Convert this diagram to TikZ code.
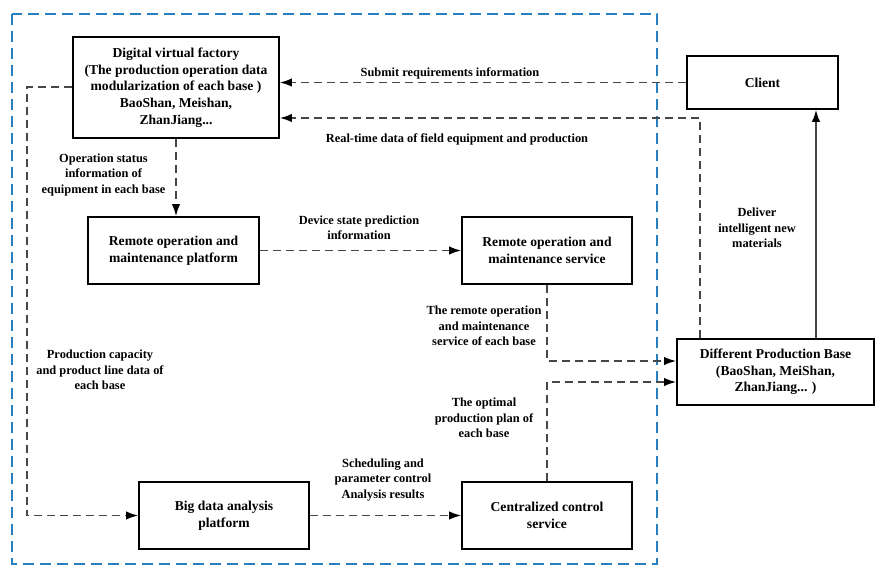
\documentclass[tikz,border=0pt]{standalone}
\usepackage{fontspec}
\setmainfont{Liberation Serif}
\usetikzlibrary{arrows.meta}
\definecolor{framecol}{RGB}{38,128,192}
\definecolor{linecol}{RGB}{70,70,70}
\begin{document}
\begin{tikzpicture}[x=1pt,y=-1pt,
  box/.style={draw=black,line width=1.9pt,fill=white,align=center,inner sep=2pt,
    font=\fontsize{13.6}{16.7}\selectfont\bfseries},
  lbl/.style={align=center,inner sep=0pt,font=\fontsize{12.4}{15.4}\selectfont\bfseries},
  dline/.style={draw=linecol,line width=1.4pt,dash pattern=on 8pt off 5pt},
  sline/.style={draw=linecol,line width=1.4pt},
  tip/.style={-{Latex[length=12pt,width=8.5pt,fill=black,color=black]}},
  frame/.style={draw=framecol,line width=2.4pt,dash pattern=on 11pt off 6pt}]
\useasboundingbox (0,0) rectangle (876,567);
% dashed system boundary
\draw[frame] (12,14) rectangle (657,564);

% blocks
\node[box,minimum width=206pt,minimum height=101pt] (dvf) at (176,87.5)
  {Digital virtual factory\\(The production operation data\\modularization of each base )\\BaoShan, Meishan,\\ZhanJiang...};
\node[box,minimum width=151pt,minimum height=53pt] (client) at (762.5,82.5) {Client};
\node[box,minimum width=171pt,minimum height=67pt] (rop) at (173.5,250.5)
  {Remote operation and\\maintenance platform};
\node[box,minimum width=170pt,minimum height=67pt] (ros) at (547,250.5)
  {Remote operation and\\maintenance service};
\node[box,minimum width=197pt,minimum height=66pt] (dpb) at (775.5,372)
  {Different Production Base\\(BaoShan, MeiShan,\\ZhanJiang... )};
\node[box,minimum width=170pt,minimum height=67pt] (bda) at (224,515.5)
  {Big data analysis\\platform};
\node[box,minimum width=170pt,minimum height=67pt] (ccs) at (547,515.5)
  {Centralized control\\service};

% bend points
\coordinate (rt) at (700,118);
\coordinate (lf) at (27,87);
\coordinate (rs) at (547,361);
\coordinate (op) at (547,382);
\coordinate (dl) at (816,0);

% connectors
\draw[dline,tip] (client.west) -- (client.west -| dvf.east);
\draw[dline,tip] (dpb.north -| rt) -- (rt) -- (rt -| dvf.east);
\draw[dline,tip] (dvf.south) -- (dvf.south |- rop.north);
\draw[dline,tip] (dvf.west |- lf) -- (lf) -- (lf |- bda.west) -- (bda.west);
\draw[dline,tip] (rop.east) -- (ros.west);
\draw[dline,tip] (ros.south) -- (rs) -- (rs -| dpb.west);
\draw[dline,tip] (ccs.north) -- (op) -- (op -| dpb.west);
\draw[dline,tip] (bda.east) -- (ccs.west);
\draw[sline,tip] (dpb.north -| dl) -- (client.south -| dl);

% connector labels
\node[lbl] (l1) at (450,73) {Submit requirements information};
\node[lbl] (l2) at (457,139) {Real-time data of field equipment and production};
\node[lbl] (l3) at (103.5,175) {Operation status\\information of\\equipment in each base};
\node[lbl] (l4) at (100,370) {Production capacity\\and product line data of\\each base};
\node[lbl] (l5) at (359,228) {Device state prediction\\information};
\node[lbl] (l6) at (484,326) {The remote operation\\and maintenance\\service of each base};
\node[lbl] (l7) at (484,418) {The optimal\\production plan of\\each base};
\node[lbl] (l8) at (383,480) {Scheduling and\\parameter control\\Analysis results};
\node[lbl] (l9) at (757,228) {Deliver\\intelligent new\\materials};
\end{tikzpicture}
\end{document}
